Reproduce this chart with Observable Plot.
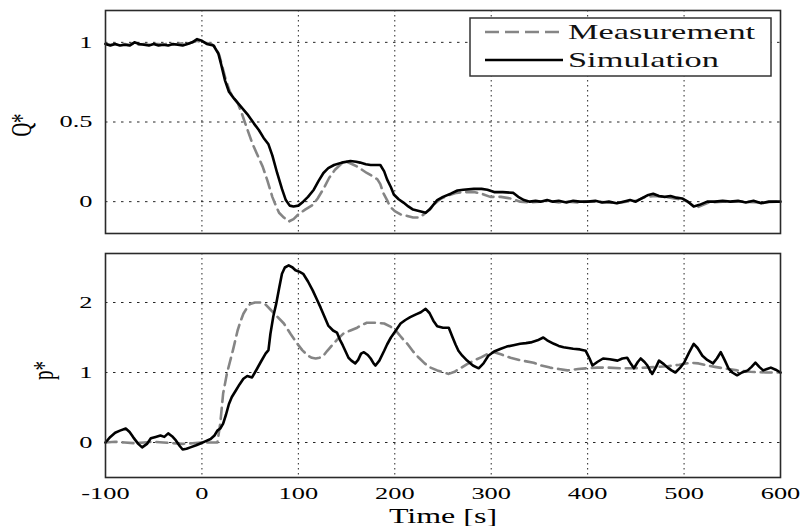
<!DOCTYPE html>
<html>
<head>
<meta charset="utf-8">
<script src="https://cdn.jsdelivr.net/npm/d3@7"></script>
<script src="https://cdn.jsdelivr.net/npm/@observablehq/plot@0.6"></script>
<style>
  html, body { margin: 0; padding: 0; background: #fff; overflow: hidden; }
  #chart { position: relative; width: 808px; height: 526px; }
  #chart svg { display: block; }
</style>
</head>
<body>
<div id="chart"></div>
<script>
// ---------- data ----------
const xTicks = [-100, 0, 100, 200, 300, 400, 500, 600];
const qTicks = [0, 0.5, 1];
const pTicks = [0, 1, 2];
const seriesNames = ["Measurement", "Simulation"];

// Q* (top panel): [time s, value]
const qMeasurement = [[-100,0.99],[-95,0.985],[-90,0.99],[-85,0.98],[-80,0.99],[-75,0.985],[-70,0.995],[-65,0.985],[-60,0.99],[-55,0.985],[-50,0.99],[-45,0.99],[-40,0.985],[-35,0.995],[-30,0.985],[-25,0.99],[-20,0.995],[-15,0.99],[-10,1.0],[-5,1.01],[0,1.0],[5,0.995],[10,0.99],[14,0.97],[18,0.92],[21,0.85],[25,0.76],[29,0.69],[33,0.65],[37,0.62],[41,0.56],[45,0.49],[52,0.37],[57,0.3],[63,0.22],[68,0.13],[73,0.03],[77,-0.03],[80,-0.07],[85,-0.1],[90,-0.125],[95,-0.11],[100,-0.08],[107,-0.05],[115,-0.02],[120,0.02],[126,0.08],[132,0.15],[138,0.2],[144,0.235],[150,0.25],[156,0.235],[161,0.22],[166,0.2],[171,0.18],[177,0.16],[182,0.14],[185,0.11],[188,0.055],[192,0.01],[195,-0.03],[200,-0.06],[206,-0.08],[213,-0.09],[219,-0.1],[225,-0.1],[230,-0.08],[236,-0.05],[242,-0.01],[248,0.02],[256,0.04],[264,0.055],[272,0.06],[282,0.06],[290,0.05],[299,0.03],[310,0.03],[320,0.02],[330,0.0],[340,-0.005],[350,0.0],[360,0.005],[370,-0.005],[380,0.0],[390,-0.005],[400,0.0],[410,0.0],[420,-0.005],[430,-0.01],[440,0.0],[450,0.005],[460,0.03],[470,0.035],[480,0.03],[490,0.02],[500,0.01],[506,-0.01],[512,-0.04],[518,-0.025],[526,-0.005],[540,0.0],[560,0.0],[580,-0.005],[600,0.0]];
const qSimulation = [[-100,0.99],[-95,0.98],[-90,0.99],[-85,0.98],[-80,0.985],[-75,0.98],[-70,1.0],[-65,0.99],[-60,0.985],[-55,0.98],[-50,0.99],[-45,0.98],[-40,0.985],[-35,0.98],[-30,0.99],[-25,0.985],[-20,0.98],[-15,0.99],[-10,1.0],[-5,1.02],[0,1.01],[5,0.99],[12,0.98],[17,0.93],[20,0.86],[24,0.76],[28,0.69],[33,0.65],[40,0.6],[47,0.55],[54,0.49],[59,0.45],[64,0.4],[69,0.36],[73,0.29],[78,0.18],[83,0.08],[87,0.01],[91,-0.025],[95,-0.03],[100,-0.025],[105,0.0],[110,0.03],[116,0.075],[121,0.13],[126,0.18],[131,0.21],[137,0.23],[145,0.245],[154,0.255],[160,0.25],[164,0.245],[170,0.235],[175,0.23],[185,0.23],[189,0.19],[192,0.14],[196,0.09],[199,0.045],[204,0.015],[209,-0.006],[214,-0.03],[219,-0.05],[226,-0.06],[232,-0.07],[236,-0.05],[240,-0.02],[244,0.01],[250,0.03],[258,0.05],[265,0.07],[271,0.075],[282,0.08],[290,0.08],[296,0.075],[303,0.06],[312,0.06],[323,0.055],[328,0.03],[334,0.01],[340,0.0],[346,0.005],[351,0.0],[358,0.01],[364,0.0],[370,0.005],[378,-0.005],[385,0.005],[392,0.0],[400,0.0],[408,0.005],[415,-0.005],[422,0.0],[430,-0.01],[437,0.0],[444,0.01],[450,0.0],[456,0.02],[462,0.04],[468,0.05],[474,0.035],[480,0.03],[486,0.035],[492,0.025],[498,0.02],[504,0.0],[510,-0.03],[516,-0.02],[524,0.0],[532,0.0],[540,0.005],[548,0.0],[556,0.005],[564,-0.005],[572,0.005],[580,-0.01],[588,0.0],[595,0.0],[600,0.0]];

// p* (bottom panel): [time s, value]
const pMeasurement = [[-100,0.0],[-90,0.01],[-80,0.0],[-70,-0.01],[-60,0.0],[-50,0.01],[-40,0.0],[-30,-0.01],[-20,-0.02],[-10,-0.01],[0,0.0],[10,0.0],[16,0.0],[19,0.27],[22,0.7],[26,0.99],[29,1.15],[32,1.31],[37,1.6],[40,1.73],[43,1.84],[47,1.93],[50,1.98],[55,2.0],[61,2.0],[66,1.97],[71,1.9],[78,1.8],[85,1.7],[92,1.55],[99,1.41],[104,1.32],[110,1.24],[114,1.21],[118,1.2],[122,1.21],[126,1.24],[130,1.31],[135,1.39],[141,1.48],[147,1.56],[154,1.6],[161,1.64],[166,1.68],[171,1.71],[180,1.71],[189,1.7],[195,1.66],[201,1.6],[207,1.5],[213,1.41],[219,1.3],[225,1.21],[231,1.13],[237,1.07],[244,1.03],[251,1.0],[256,0.98],[262,1.01],[268,1.06],[275,1.12],[282,1.17],[290,1.22],[297,1.27],[303,1.29],[310,1.26],[320,1.21],[332,1.17],[344,1.14],[352,1.1],[361,1.07],[370,1.05],[379,1.03],[390,1.05],[399,1.06],[410,1.07],[421,1.07],[435,1.06],[448,1.06],[460,1.07],[472,1.08],[483,1.09],[495,1.11],[507,1.14],[515,1.13],[524,1.1],[532,1.08],[541,1.06],[555,1.03],[569,1.01],[585,1.0],[600,1.0]];
const pSimulation = [[-100,0.0],[-95,0.08],[-90,0.14],[-85,0.17],[-79,0.2],[-75,0.15],[-71,0.07],[-66,-0.02],[-62,-0.07],[-57,-0.02],[-53,0.06],[-48,0.08],[-43,0.1],[-39,0.08],[-35,0.13],[-31,0.09],[-27,0.03],[-23,-0.05],[-20,-0.1],[-16,-0.09],[-12,-0.07],[-6,-0.04],[-1,-0.01],[4,0.02],[9,0.05],[13,0.1],[16,0.17],[19,0.2],[22,0.27],[25,0.4],[28,0.55],[31,0.65],[35,0.74],[39,0.83],[43,0.91],[47,0.95],[52,0.93],[57,1.05],[61,1.15],[66,1.27],[69,1.32],[71,1.55],[74,1.8],[77,1.98],[80,2.2],[83,2.41],[86,2.5],[90,2.53],[94,2.5],[97,2.46],[101,2.44],[105,2.41],[110,2.3],[115,2.17],[119,2.05],[123,1.93],[127,1.8],[131,1.67],[136,1.6],[140,1.57],[143,1.47],[146,1.39],[149,1.3],[152,1.21],[155,1.17],[159,1.13],[162,1.18],[165,1.27],[168,1.29],[172,1.25],[175,1.2],[178,1.13],[180,1.1],[184,1.17],[189,1.31],[192,1.4],[196,1.5],[200,1.58],[206,1.7],[211,1.75],[216,1.79],[222,1.83],[227,1.86],[232,1.91],[236,1.85],[240,1.74],[244,1.66],[250,1.64],[256,1.64],[260,1.5],[263,1.4],[266,1.31],[270,1.24],[275,1.17],[281,1.1],[287,1.06],[292,1.13],[297,1.24],[303,1.3],[310,1.34],[316,1.37],[323,1.39],[330,1.41],[336,1.42],[341,1.43],[348,1.46],[354,1.5],[358,1.46],[365,1.41],[370,1.38],[375,1.36],[380,1.35],[385,1.34],[392,1.33],[398,1.31],[402,1.2],[405,1.1],[410,1.15],[416,1.2],[423,1.19],[431,1.17],[436,1.2],[441,1.21],[445,1.12],[448,1.06],[452,1.15],[455,1.2],[459,1.15],[462,1.1],[465,1.02],[467,0.98],[471,1.08],[474,1.17],[479,1.12],[483,1.07],[487,1.03],[491,1.0],[496,1.07],[500,1.14],[505,1.28],[510,1.41],[514,1.35],[519,1.24],[524,1.18],[530,1.13],[534,1.2],[538,1.29],[542,1.18],[546,1.06],[550,1.0],[555,0.96],[560,1.0],[566,1.03],[570,1.08],[574,1.14],[578,1.08],[582,1.03],[586,1.05],[590,1.07],[595,1.04],[600,1.0]];

// ---------- styling ----------
const serif = "'Liberation Serif', 'Times New Roman', Times, serif";
const measStyle = {stroke: "#858585", strokeWidth: 2.6, strokeDasharray: "11,6"};
const simStyle = {stroke: "#000", strokeWidth: 2.6};
const STRETCH = 1.6; // the reference figure is horizontally stretched
const plain = d => String(d);

function gridMarks(yTicks) {
  return [
    Plot.gridX(xTicks, {stroke: "#000", strokeOpacity: 0.85, strokeWidth: 1, strokeDasharray: "1.5,3.5"}),
    Plot.gridY(yTicks, {stroke: "#000", strokeOpacity: 0.85, strokeWidth: 1, strokeDasharray: "2.5,5.5"})
  ];
}
function lineMarks(meas, sim) {
  return [
    Plot.line(meas, {x: d => d[0], y: d => d[1], ...measStyle}),
    Plot.line(sim, {x: d => d[0], y: d => d[1], ...simStyle})
  ];
}
function stretchTexts(svg) {
  svg.querySelectorAll("text").forEach(t => {
    const tr = t.getAttribute("transform") || "";
    if (/rotate/.test(tr)) t.setAttribute("transform", tr + ` scale(1,${STRETCH})`);
    else t.setAttribute("transform", tr + ` scale(${STRETCH},1)`);
  });
}
const baseStyle = {fontFamily: serif, fontSize: "16px", color: "#000", background: "#fff", overflow: "visible"};

const topPlot = Plot.plot({
  width: 808, height: 240,
  marginLeft: 105, marginRight: 28, marginTop: 10, marginBottom: 7,
  x: {domain: [-100, 600], axis: null},
  y: {domain: [-0.2, 1.2]},
  style: baseStyle,
  marks: [
    ...gridMarks(qTicks),
    Plot.axisY(qTicks, {tickSize: 0, tickPadding: 13, label: null, fontSize: 16.5, tickFormat: plain}),
    ...lineMarks(qMeasurement, qSimulation),
    Plot.frame({stroke: "#2a2a2a", strokeWidth: 1.6}),
    Plot.text(["Q*"], {frameAnchor: "left", rotate: -90, textAnchor: "middle", lineAnchor: "bottom", dx: -75, dy: 3, fontSize: 19})
  ]
});

const bottomPlot = Plot.plot({
  width: 808, height: 286,
  marginLeft: 105, marginRight: 28, marginTop: 13, marginBottom: 49,
  x: {domain: [-100, 600]},
  y: {domain: [-0.5, 2.7]},
  style: baseStyle,
  marks: [
    ...gridMarks(pTicks),
    Plot.axisY(pTicks, {tickSize: 0, tickPadding: 13, label: null, fontSize: 16.5, tickFormat: plain}),
    Plot.axisX(xTicks, {tickSize: 0, tickPadding: 10, label: null, fontSize: 16.5, tickFormat: plain}),
    ...lineMarks(pMeasurement, pSimulation),
    Plot.frame({stroke: "#2a2a2a", strokeWidth: 1.6}),
    Plot.text(["p*"], {frameAnchor: "left", rotate: -90, textAnchor: "middle", lineAnchor: "bottom", dx: -53, dy: 5, fontSize: 19}),
    Plot.text(["Time [s]"], {frameAnchor: "bottom", textAnchor: "middle", lineAnchor: "bottom", dy: 45, fontSize: 20})
  ]
});

stretchTexts(topPlot);
stretchTexts(bottomPlot);

const chart = document.getElementById("chart");
chart.appendChild(topPlot);
chart.appendChild(bottomPlot);

// ---------- legend (overlay on the top panel) ----------
const legend = d3.create("svg")
  .attr("width", 808).attr("height", 240)
  .style("position", "absolute").style("left", "0px").style("top", "0px")
  .style("pointer-events", "none");
legend.append("rect")
  .attr("x", 470).attr("y", 18).attr("width", 301).attr("height", 58)
  .attr("fill", "#fff").attr("stroke", "#333").attr("stroke-width", 1.5);
const legendStyles = [measStyle, simStyle];
seriesNames.forEach((name, i) => {
  const cy = 32 + i * 28;
  const s = legendStyles[i];
  legend.append("line")
    .attr("x1", 485).attr("x2", 563).attr("y1", cy).attr("y2", cy)
    .attr("stroke", s.stroke).attr("stroke-width", s.strokeWidth)
    .attr("stroke-dasharray", s.strokeDasharray ? "14,6" : null);
  legend.append("text")
    .attr("transform", `translate(568,${cy + 7}) scale(1.72,1)`)
    .attr("font-family", serif).attr("font-size", 20).attr("fill", "#111")
    .text(name);
});
chart.appendChild(legend.node());
</script>
</body>
</html>
